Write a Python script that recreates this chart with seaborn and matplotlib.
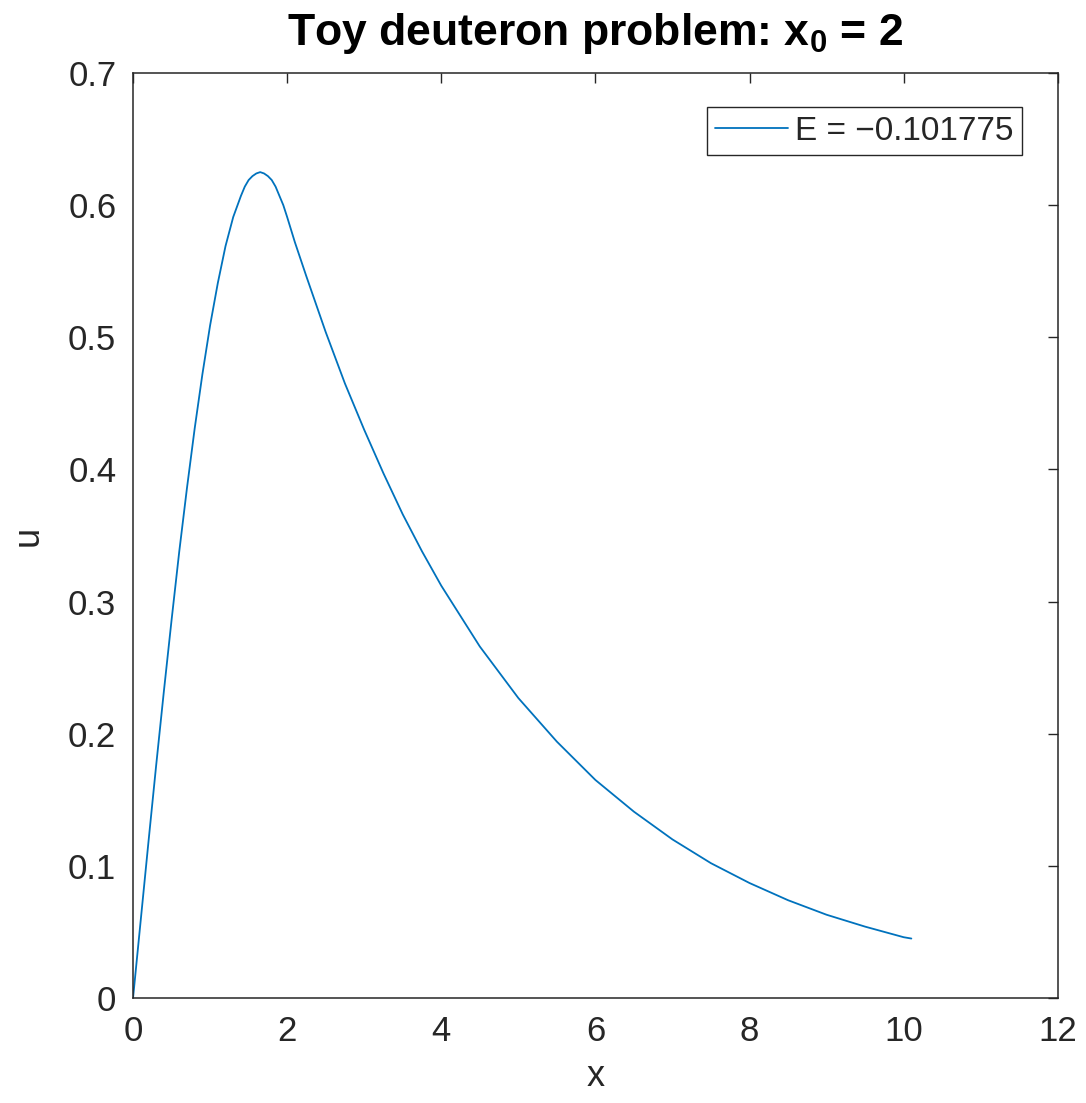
import matplotlib
matplotlib.use("Agg")
import matplotlib.pyplot as plt
import seaborn as sns
import pandas as pd

# values
x_vals = [0.0, 0.1, 0.2, 0.3, 0.4, 0.5, 0.6, 0.7, 0.8, 0.9,
          1.0, 1.1, 1.2, 1.3, 1.4, 1.45, 1.5, 1.55, 1.6, 1.65,
          1.7, 1.75, 1.8, 1.85, 1.9, 1.95, 2.0, 2.1, 2.25, 2.5,
          2.75, 3.0, 3.25, 3.5, 3.75, 4.0, 4.5, 5.0, 5.5, 6.0,
          6.5, 7.0, 7.5, 8.0, 8.5, 9.0, 9.5, 10.0, 10.1]
u_vals = [0.0, 0.059, 0.118, 0.176, 0.232, 0.286, 0.338, 0.386, 0.431, 0.472,
          0.509, 0.541, 0.569, 0.591, 0.607, 0.614, 0.619, 0.622, 0.624, 0.625,
          0.624, 0.622, 0.619, 0.614, 0.607, 0.600, 0.591, 0.572, 0.546, 0.504,
          0.465, 0.430, 0.397, 0.366, 0.338, 0.312, 0.266, 0.227, 0.194, 0.165,
          0.141, 0.120, 0.102, 0.087, 0.074, 0.063, 0.054, 0.046, 0.045]

x_ticks = [0, 2, 4, 6, 8, 10, 12]
y_ticks = [0, 0.1, 0.2, 0.3, 0.4, 0.5, 0.6, 0.7]
y_tick_labels = ['0', '0.1', '0.2', '0.3', '0.4', '0.5', '0.6', '0.7']
legend_label = 'E = \u22120.101775'

df = pd.DataFrame({'x': x_vals, 'u': u_vals})

sns.set_style("white")
plt.rcParams['font.family'] = ['Liberation Sans', 'DejaVu Sans']
plt.rcParams['mathtext.fontset'] = 'custom'
plt.rcParams['mathtext.rm'] = 'Liberation Sans'
plt.rcParams['mathtext.bf'] = 'Liberation Sans:bold'

dark = '#262626'

fig = plt.figure(figsize=(10.86, 11.03), dpi=100)
ax = fig.add_axes([0.1225, 0.0952, 0.8515, 0.8386])

sns.lineplot(data=df, x='x', y='u', ax=ax, color='#0072BD', linewidth=1.3,
             sort=False, estimator=None, label=legend_label)

ax.set_xlim(0, 12)
ax.set_ylim(0, 0.7)
ax.set_xticks(x_ticks)
ax.set_yticks(y_ticks)
ax.set_yticklabels(y_tick_labels)
ax.tick_params(direction='in', length=7, width=1, colors=dark, labelsize=25,
               top=True, right=True, pad=12)
for s in ax.spines.values():
    s.set_color(dark)
    s.set_linewidth(1.1)

ax.set_xlabel('x', fontsize=26, color=dark, labelpad=8)
ax.set_ylabel('u', fontsize=26, color=dark, labelpad=16)
ax.set_title(r'Toy deuteron problem: x$_\mathbf{0}$ = 2', fontsize=32,
             fontweight='bold', color='black', pad=20)

leg = ax.legend(loc='upper right', bbox_to_anchor=(0.961, 0.963), borderaxespad=0,
                fancybox=False, framealpha=1, edgecolor=dark, fontsize=24,
                handlelength=2.2, handletextpad=0.2, borderpad=0.25)
leg.get_frame().set_linewidth(1.0)
for t in leg.get_texts():
    t.set_color(dark)

plt.savefig('out.png', dpi=100)
